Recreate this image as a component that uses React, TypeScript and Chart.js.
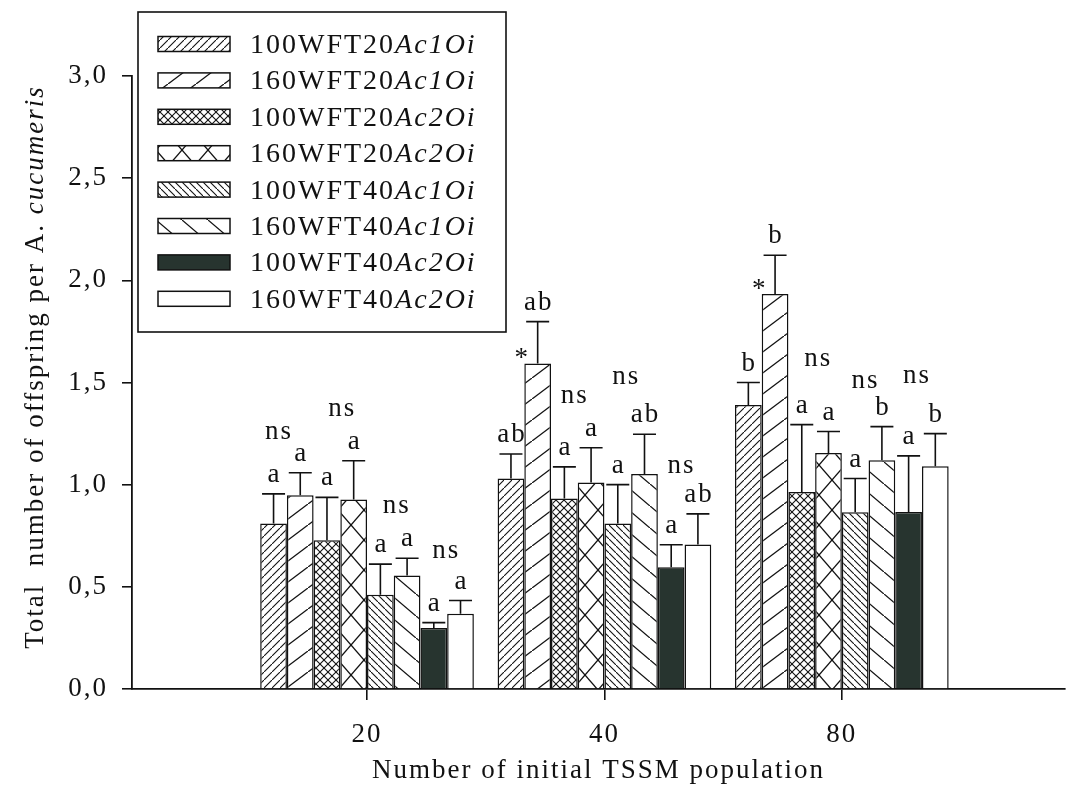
import React, { useEffect, useRef } from 'react';
import { Chart, registerables } from 'chart.js';

Chart.register(...registerables);

// ---------- data ----------
const groupLabels = ['20', '40', '80'];
const groupPositions = [1, 2, 3];

const seriesPlain = ['100WFT20', '160WFT20', '100WFT20', '160WFT20', '100WFT40', '160WFT40', '100WFT40', '160WFT40'];
const seriesItalic = ['Ac1Oi', 'Ac1Oi', 'Ac2Oi', 'Ac2Oi', 'Ac1Oi', 'Ac1Oi', 'Ac2Oi', 'Ac2Oi'];

const s1 = [0.81, 1.03, 1.39];
const s2 = [0.948, 1.593, 1.933];
const s3 = [0.728, 0.932, 0.964];
const s4 = [0.927, 1.011, 1.155];
const s5 = [0.461, 0.81, 0.865];
const s6 = [0.555, 1.052, 1.119];
const s7 = [0.298, 0.596, 0.866];
const s8 = [0.368, 0.707, 1.09];
const means = [s1, s2, s3, s4, s5, s6, s7, s8];

const e1 = [0.145, 0.12, 0.11];
const e2 = [0.11, 0.205, 0.19];
const e3 = [0.21, 0.155, 0.33];
const e4 = [0.19, 0.17, 0.105];
const e5 = [0.15, 0.19, 0.165];
const e6 = [0.085, 0.195, 0.165];
const e7 = [0.027, 0.11, 0.275];
const e8 = [0.065, 0.15, 0.16];
const errors = [e1, e2, e3, e4, e5, e6, e7, e8];

const l1 = ['a', 'ab', 'b'];
const l2 = ['a', 'ab', 'b'];
const l3 = ['a', 'a', 'a'];
const l4 = ['a', 'a', 'a'];
const l5 = ['a', 'a', 'a'];
const l6 = ['a', 'ab', 'b'];
const l7 = ['a', 'a', 'a'];
const l8 = ['a', 'ab', 'b'];
const letters = [l1, l2, l3, l4, l5, l6, l7, l8];

// pair comparison marks (pairs of series 1-2, 3-4, 5-6, 7-8) per group
const pairMarks = [
  ['ns', 'ns', 'ns', 'ns'],
  ['*', 'ns', 'ns', 'ns'],
  ['*', 'ns', 'ns', 'ns'],
];
// y value (baseline) of the "ns" marks, in data units
const pairMarkY = [
  [1.224, 1.336, 0.861, 0.641],
  [0, 1.4, 1.493, 1.057],
  [0, 1.581, 1.473, 1.498],
];
const pairMarkDx = [
  [-8, 2, 3, -1],
  [0, -3, -5, -3],
  [0, 3, -3, -5],
];

const yTicks = [0, 0.5, 1, 1.5, 2, 2.5, 3];
const xTitle = 'Number of initial TSSM population';
const yTitlePlain = 'Total  number of offspring per A. ';
const yTitleItalic = 'cucumeris';

// ---------- styles ----------
const FONT = '"Liberation Serif", "Times New Roman", serif';
const INK = '#111111';
const DARK = '#27342f';
const SPACING = '2px';

type PatternKind = 'fwdDense' | 'fwdSparse' | 'crossDense' | 'crossSparse' | 'backDense' | 'backSparse' | 'solid' | 'white';
const patternKinds: PatternKind[] = ['fwdDense', 'fwdSparse', 'crossDense', 'crossSparse', 'backDense', 'backSparse', 'solid', 'white'];

function makePattern(kind: PatternKind): CanvasPattern | string {
  if (kind === 'solid') return DARK;
  if (kind === 'white') return '#ffffff';
  const dims: Record<string, [number, number]> = {
    fwdDense: [8, 8],
    fwdSparse: [28, 21],
    crossDense: [8, 8],
    crossSparse: [26, 30],
    backDense: [7, 7],
    backSparse: [26, 22],
  };
  const [w, h] = dims[kind];
  const c = document.createElement('canvas');
  c.width = w;
  c.height = h;
  const g = c.getContext('2d')!;
  g.fillStyle = '#ffffff';
  g.fillRect(0, 0, w, h);
  g.strokeStyle = INK;
  g.lineWidth = kind === 'fwdDense' || kind === 'crossDense' || kind === 'backDense' ? 1.1 : 1.3;
  const fwd = () => {
    g.beginPath();
    g.moveTo(-w, 2 * h);
    g.lineTo(2 * w, -h);
    g.stroke();
  };
  const back = () => {
    g.beginPath();
    g.moveTo(-w, -h);
    g.lineTo(2 * w, 2 * h);
    g.stroke();
  };
  if (kind === 'fwdDense' || kind === 'fwdSparse') fwd();
  if (kind === 'backDense' || kind === 'backSparse') back();
  if (kind === 'crossDense' || kind === 'crossSparse') {
    fwd();
    back();
  }
  return g.createPattern(c, 'repeat')!;
}

export default function App() {
  const ref = useRef<HTMLCanvasElement | null>(null);

  useEffect(() => {
    const canvas = ref.current;
    if (!canvas) return;
    const patterns = patternKinds.map(makePattern);

    const spacingPlugin = {
      id: 'spacing',
      beforeDraw(chart: any) {
        chart.ctx.letterSpacing = SPACING;
      },
    };

    const annotPlugin = {
      id: 'annot',
      afterDatasetsDraw(chart: any) {
        const ctx = chart.ctx as CanvasRenderingContext2D;
        const ys = chart.scales.y;
        ctx.save();
        ctx.letterSpacing = SPACING;
        ctx.strokeStyle = INK;
        ctx.fillStyle = INK;
        ctx.lineWidth = 1.6;
        ctx.font = `27px ${FONT}`;
        ctx.textAlign = 'center';
        ctx.textBaseline = 'alphabetic';
        means.forEach((_, di) => {
          const meta = chart.getDatasetMeta(di);
          meta.data.forEach((bar: any, gi: number) => {
            const top = ys.getPixelForValue(means[di][gi] + errors[di][gi]);
            ctx.beginPath();
            ctx.moveTo(bar.x, bar.y);
            ctx.lineTo(bar.x, top);
            ctx.moveTo(bar.x - 11.5, top);
            ctx.lineTo(bar.x + 11.5, top);
            ctx.stroke();
            ctx.fillText(letters[di][gi], bar.x + 1, top - 12);
          });
        });
        pairMarks.forEach((marks, gi) => {
          marks.forEach((m, p) => {
            const bl = chart.getDatasetMeta(2 * p).data[gi];
            const br = chart.getDatasetMeta(2 * p + 1).data[gi];
            if (m === '*') {
              ctx.fillText('*', br.x - br.width / 2 - 2, br.y + 3);
            } else {
              const x = (bl.x + br.x) / 2 + pairMarkDx[gi][p];
              ctx.fillText(m, x, ys.getPixelForValue(pairMarkY[gi][p]));
            }
          });
        });
        ctx.restore();
      },
      afterDraw(chart: any) {
        const ctx = chart.ctx as CanvasRenderingContext2D;
        ctx.save();
        ctx.letterSpacing = SPACING;
        // y axis title
        ctx.fillStyle = INK;
        ctx.translate(43, 367);
        ctx.rotate(-Math.PI / 2);
        ctx.font = `27px ${FONT}`;
        const w1 = ctx.measureText(yTitlePlain).width;
        ctx.font = `italic 27px ${FONT}`;
        const w2 = ctx.measureText(yTitleItalic).width;
        const x0 = -(w1 + w2) / 2;
        ctx.textAlign = 'left';
        ctx.textBaseline = 'alphabetic';
        ctx.font = `27px ${FONT}`;
        ctx.fillText(yTitlePlain, x0, 0);
        ctx.font = `italic 27px ${FONT}`;
        ctx.fillText(yTitleItalic, x0 + w1, 0);
        ctx.restore();

        // legend
        ctx.save();
        ctx.letterSpacing = SPACING;
        const L = 138, T = 12, R = 506, B = 332;
        ctx.fillStyle = '#ffffff';
        ctx.fillRect(L, T, R - L, B - T);
        ctx.strokeStyle = INK;
        ctx.lineWidth = 1.6;
        ctx.strokeRect(L, T, R - L, B - T);
        seriesPlain.forEach((plain, i) => {
          const cy = 44 + i * 36.4;
          ctx.fillStyle = patterns[i] as any;
          ctx.fillRect(158, cy - 7.5, 72, 15);
          ctx.lineWidth = 1.5;
          ctx.strokeStyle = INK;
          ctx.strokeRect(158, cy - 7.5, 72, 15);
          ctx.fillStyle = INK;
          ctx.textAlign = 'left';
          ctx.textBaseline = 'alphabetic';
          ctx.font = `28px ${FONT}`;
          ctx.fillText(plain, 250, cy + 9);
          const pw = ctx.measureText(plain).width;
          ctx.font = `italic 28px ${FONT}`;
          ctx.fillText(seriesItalic[i], 250 + pw, cy + 9);
        });
        ctx.restore();
      },
    };

    const chart = new Chart(canvas, {
      type: 'bar',
      data: {
        datasets: means.map((vals, i) => ({
          label: seriesPlain[i] + seriesItalic[i],
          data: vals.map((v, g) => ({ x: groupPositions[g], y: v })),
          backgroundColor: patterns[i] as any,
          borderColor: INK,
          borderWidth: 1.5,
          categoryPercentage: 0.9,
          barPercentage: 1.0,
        })),
      },
      options: {
        animation: false,
        responsive: false,
        events: [],
        layout: { padding: { top: 76, right: 6, left: 0, bottom: 0 } },
        plugins: { legend: { display: false }, tooltip: { enabled: false } },
        scales: {
          x: {
            type: 'linear',
            offset: false,
            min: 0.01,
            max: 3.94,
            afterBuildTicks: (s: any) => {
              s.ticks = groupPositions.map((v) => ({ value: v }));
            },
            afterFit: (s: any) => {
              s.height = 102;
            },
            grid: { offset: false, drawOnChartArea: false, drawTicks: true, tickLength: 11, color: INK, lineWidth: 1.6 },
            border: { display: true, color: INK, width: 1.8 },
            ticks: {
              autoSkip: false,
              maxRotation: 0,
              padding: 19,
              color: INK,
              font: { family: FONT, size: 27 },
              callback: (v: any) => {
                const i = groupPositions.indexOf(Number(v));
                return i >= 0 ? groupLabels[i] : '';
              },
            },
            title: {
              display: true,
              text: xTitle,
              color: INK,
              font: { family: FONT, size: 27 },
              padding: { top: 0, bottom: 4 },
            },
          },
          y: {
            min: 0,
            max: 3,
            afterBuildTicks: (s: any) => {
              s.ticks = yTicks.map((v) => ({ value: v }));
            },
            afterFit: (s: any) => {
              s.width = 132;
            },
            grid: { drawOnChartArea: false, drawTicks: true, tickLength: 10, color: INK, lineWidth: 1.6 },
            border: { display: true, color: INK, width: 1.8 },
            ticks: {
              padding: 14,
              color: INK,
              font: { family: FONT, size: 27 },
              callback: (v: any) => Number(v).toFixed(1).replace('.', ','),
            },
          },
        },
      },
      plugins: [spacingPlugin, annotPlugin],
    } as any);

    return () => chart.destroy();
  }, []);

  return (
    <div style={{ position: 'fixed', left: 0, top: 0, width: 1071, height: 791, background: '#fff' }}>
      <canvas ref={ref} width={1071} height={791} style={{ display: 'block' }} />
    </div>
  );
}
